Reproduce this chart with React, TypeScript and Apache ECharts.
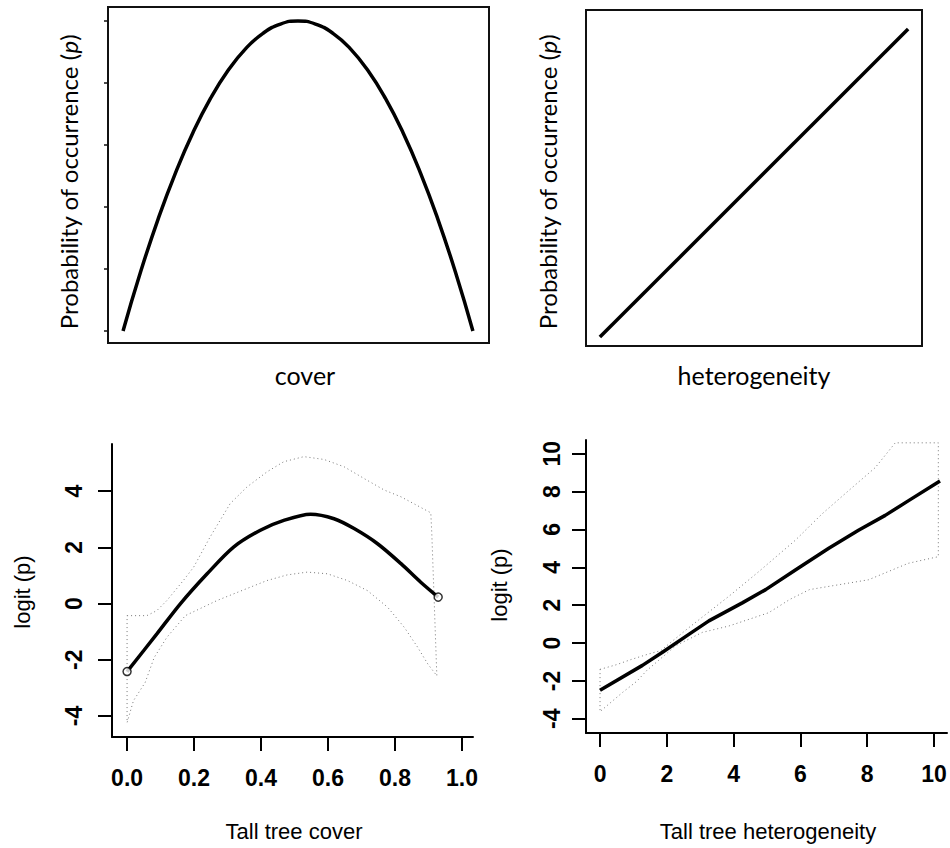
import React, { useEffect, useRef } from "react";
import * as echarts from "echarts";

// ---- Top-left: probability vs cover (unscaled illustration) ----
const coverX = [0, 0.05, 0.1, 0.15, 0.2, 0.25, 0.3, 0.35, 0.4, 0.45, 0.5, 0.55, 0.6, 0.65, 0.7, 0.75, 0.8, 0.85, 0.9, 0.95, 1.0];
const coverP = [0, 0.19, 0.36, 0.51, 0.64, 0.75, 0.84, 0.91, 0.96, 0.99, 1.0, 0.99, 0.96, 0.91, 0.84, 0.75, 0.64, 0.51, 0.36, 0.19, 0];
const coverPTicks = [0, 0.2, 0.4, 0.6, 0.8, 1.0];

// ---- Top-right: probability vs heterogeneity ----
const hetX = [0, 1];
const hetP = [0, 1];

// ---- Bottom-left: logit(p) vs tall tree cover ----
const tallCoverX = [0, 0.089, 0.159, 0.239, 0.318, 0.398, 0.468, 0.548, 0.618, 0.678, 0.748, 0.818, 0.877, 0.929];
const tallCoverLogit = [-2.42, -1.08, -0.01, 1.06, 2.01, 2.61, 2.96, 3.18, 3.02, 2.67, 2.13, 1.42, 0.76, 0.23];
const tallCoverUpperX = [0, 0.059, 0.089, 0.119, 0.168, 0.199, 0.248, 0.308, 0.358, 0.418, 0.468, 0.528, 0.588, 0.648, 0.708, 0.768, 0.818, 0.907, 0.91];
const tallCoverUpper = [-0.43, -0.43, -0.25, 0.11, 0.82, 1.3, 2.37, 3.56, 4.15, 4.69, 5.05, 5.23, 5.13, 4.87, 4.45, 4.04, 3.8, 3.23, 2.49];
const tallCoverLowerX = [0, 0.019, 0.054, 0.081, 0.119, 0.174, 0.269, 0.338, 0.418, 0.478, 0.538, 0.598, 0.658, 0.718, 0.778, 0.828, 0.868, 0.898, 0.925];
const tallCoverLower = [-4.24, -3.46, -2.81, -1.92, -1.2, -0.43, 0.11, 0.44, 0.82, 1.02, 1.12, 1.06, 0.82, 0.46, -0.13, -0.85, -1.56, -2.15, -2.57];
const tallCoverXTicks = [0, 0.2, 0.4, 0.6, 0.8, 1.0];
const tallCoverYTicks = [-4, -2, 0, 2, 4];

// ---- Bottom-right: logit(p) vs tall tree heterogeneity ----
const tallHetX = [0, 1.27, 1.87, 2.67, 3.26, 4.26, 4.96, 5.85, 6.85, 7.74, 8.54, 9.24, 10.18];
const tallHetLogit = [-2.49, -1.18, -0.49, 0.47, 1.17, 2.12, 2.82, 3.86, 5.0, 5.95, 6.74, 7.52, 8.56];
const tallHetUpperX = [0, 0.48, 0.93, 1.47, 1.82, 2.6, 3.86, 4.76, 5.85, 6.65, 7.44, 8.24, 8.64, 8.84, 10.13, 10.13];
const tallHetUpper = [-1.39, -1.15, -0.87, -0.57, -0.4, 0.73, 2.47, 3.78, 5.43, 6.82, 8.04, 9.26, 10.13, 10.57, 10.57, 4.56];
const tallHetLowerX = [0, 0.68, 1.1, 1.4, 2.27, 3.06, 3.86, 5.05, 5.68, 6.27, 8.04, 9.23, 10.13];
const tallHetLower = [-3.62, -2.6, -2.02, -1.45, -0.14, 0.56, 0.9, 1.6, 2.3, 2.82, 3.34, 4.21, 4.56];
const tallHetXTicks = [0, 2, 4, 6, 8, 10];
const tallHetYTicks = [-4, -2, 0, 2, 4, 6, 8, 10];

const zip = (xs: number[], ys: number[]) => xs.map((x, i) => [x, ys[i]]);
const band = (ux: number[], uy: number[], lx: number[], ly: number[]) => {
  const up = zip(ux, uy);
  const lo = zip(lx, ly).reverse();
  return [...up, ...lo, up[0]];
};

const SANS = "'Liberation Sans', Arial, sans-serif";
const CAL = "Lato, 'Open Sans', sans-serif";

export default function App() {
  const ref = useRef<HTMLDivElement>(null);
  useEffect(() => {
    if (!ref.current) return;
    const chart = echarts.init(ref.current, undefined, { renderer: "svg" });

    const hidden = {
      axisLine: { show: false, onZero: false },
      axisTick: { show: false },
      axisLabel: { show: false },
      splitLine: { show: false },
    };
    const solidAxis = { show: true, onZero: false, lineStyle: { color: "#000", width: 2 } };
    const tick = (vals: number[]) => ({ show: true, length: 14, inside: false, customValues: vals, lineStyle: { color: "#000", width: 2 } });
    const tickFont = { color: "#000", fontFamily: SANS, fontWeight: "bold" as const, fontSize: 23 };
    const dotted = { color: "#777", width: 1, type: [1, 3] as any };
    const probLabel = {
      text: "{a|Probability of occurrence (}{i|p}{a|)}",
      align: "center", verticalAlign: "middle",
      rich: {
        a: { fontFamily: CAL, fontSize: 24, fill: "#000" },
        i: { fontFamily: CAL, fontSize: 24, fontStyle: "italic", fill: "#000" },
      },
    };

    const option: any = {
      animation: false,
      backgroundColor: "#fff",
      grid: [
        { left: 108, top: 7, width: 381, height: 336, show: true, borderColor: "#111", borderWidth: 2, backgroundColor: "transparent" },
        { left: 586, top: 10, width: 336, height: 336, show: true, borderColor: "#111", borderWidth: 2, backgroundColor: "transparent" },
        { left: 112, top: 444, width: 361, height: 293 },
        { left: 586, top: 440, width: 361, height: 293 },
      ],
      xAxis: [
        { gridIndex: 0, type: "value", min: -0.043, max: 1.046, ...hidden },
        { gridIndex: 1, type: "value", min: -0.045, max: 1.045, ...hidden },
        {
          gridIndex: 2, type: "value", min: -0.045, max: 1.033,
          axisLine: solidAxis, axisTick: tick(tallCoverXTicks),
          axisLabel: { show: true, customValues: tallCoverXTicks, margin: 29, formatter: (v: number) => v.toFixed(1), ...tickFont },
          splitLine: { show: false },
        },
        {
          gridIndex: 3, type: "value", min: -0.42, max: 10.39,
          axisLine: solidAxis, axisTick: tick(tallHetXTicks),
          axisLabel: { show: true, customValues: tallHetXTicks, margin: 29, formatter: (v: number) => String(v), ...tickFont },
          splitLine: { show: false },
        },
      ],
      yAxis: [
        {
          gridIndex: 0, type: "value", min: -0.039, max: 1.045,
          axisLine: { show: false, onZero: false },
          axisTick: { show: true, length: 4, inside: false, customValues: coverPTicks, lineStyle: { color: "#111", width: 1.5 } },
          axisLabel: { show: false }, splitLine: { show: false },
        },
        { gridIndex: 1, type: "value", min: -0.029, max: 1.062, ...hidden },
        {
          gridIndex: 2, type: "value", min: -4.75, max: 5.68,
          axisLine: solidAxis, axisTick: tick(tallCoverYTicks),
          axisLabel: { show: true, customValues: tallCoverYTicks, rotate: 90, margin: 27, formatter: (v: number) => String(v), ...tickFont },
          splitLine: { show: false },
        },
        {
          gridIndex: 3, type: "value", min: -4.75, max: 10.72,
          axisLine: solidAxis, axisTick: tick(tallHetYTicks),
          axisLabel: { show: true, customValues: tallHetYTicks, rotate: 90, margin: 23, formatter: (v: number) => String(v), ...tickFont },
          splitLine: { show: false },
        },
      ],
      series: [
        {
          type: "line", xAxisIndex: 0, yAxisIndex: 0, data: zip(coverX, coverP), smooth: 0.5,
          symbol: "none", lineStyle: { color: "#000", width: 3.5 },
        },
        {
          type: "line", xAxisIndex: 1, yAxisIndex: 1, data: zip(hetX, hetP),
          symbol: "none", lineStyle: { color: "#000", width: 3.5 },
        },
        {
          type: "line", xAxisIndex: 2, yAxisIndex: 2,
          data: band(tallCoverUpperX, tallCoverUpper, tallCoverLowerX, tallCoverLower),
          symbol: "none", lineStyle: dotted,
        },
        {
          type: "line", xAxisIndex: 2, yAxisIndex: 2, data: zip(tallCoverX, tallCoverLogit), smooth: 0.3,
          symbol: "none", lineStyle: { color: "#000", width: 3.5 }, z: 3,
        },
        {
          type: "scatter", xAxisIndex: 2, yAxisIndex: 2,
          data: [
            [tallCoverX[0], tallCoverLogit[0]],
            [tallCoverX[tallCoverX.length - 1], tallCoverLogit[tallCoverLogit.length - 1]],
          ],
          symbol: "circle", symbolSize: 8,
          itemStyle: { color: "#fff", borderColor: "#000", borderWidth: 1.5 }, z: 4,
        },
        {
          type: "line", xAxisIndex: 3, yAxisIndex: 3,
          data: band(tallHetUpperX, tallHetUpper, tallHetLowerX, tallHetLower),
          symbol: "none", lineStyle: dotted,
        },
        {
          type: "line", xAxisIndex: 3, yAxisIndex: 3, data: zip(tallHetX, tallHetLogit),
          symbol: "none", lineStyle: { color: "#000", width: 3.5 }, z: 3,
        },
      ],
      graphic: [
        { type: "text", x: 68, y: 182, rotation: Math.PI / 2, style: { ...probLabel } },
        { type: "text", x: 547, y: 182, rotation: Math.PI / 2, style: { ...probLabel } },
        {
          type: "text", x: 305, y: 375,
          style: { text: "cover", fontFamily: CAL, fontSize: 25, fill: "#000", align: "center", verticalAlign: "middle" },
        },
        {
          type: "text", x: 754, y: 375,
          style: { text: "heterogeneity", fontFamily: CAL, fontSize: 25, fill: "#000", align: "center", verticalAlign: "middle" },
        },
        {
          type: "text", x: 22, y: 592, rotation: Math.PI / 2,
          style: { text: "logit (p)", fontFamily: SANS, fontSize: 22, fill: "#000", align: "center", verticalAlign: "middle" },
        },
        {
          type: "text", x: 499, y: 585, rotation: Math.PI / 2,
          style: { text: "logit (p)", fontFamily: SANS, fontSize: 22, fill: "#000", align: "center", verticalAlign: "middle" },
        },
        {
          type: "text", x: 294, y: 831,
          style: { text: "Tall tree cover", fontFamily: SANS, fontSize: 22, fill: "#000", align: "center", verticalAlign: "middle" },
        },
        {
          type: "text", x: 768, y: 831,
          style: { text: "Tall tree heterogeneity", fontFamily: SANS, fontSize: 22, fill: "#000", align: "center", verticalAlign: "middle" },
        },
      ],
    };

    chart.setOption(option);
    return () => chart.dispose();
  }, []);

  return (
    <div
      ref={ref}
      style={{ position: "absolute", left: 0, top: 0, width: 950, height: 848, background: "#fff" }}
    />
  );
}
